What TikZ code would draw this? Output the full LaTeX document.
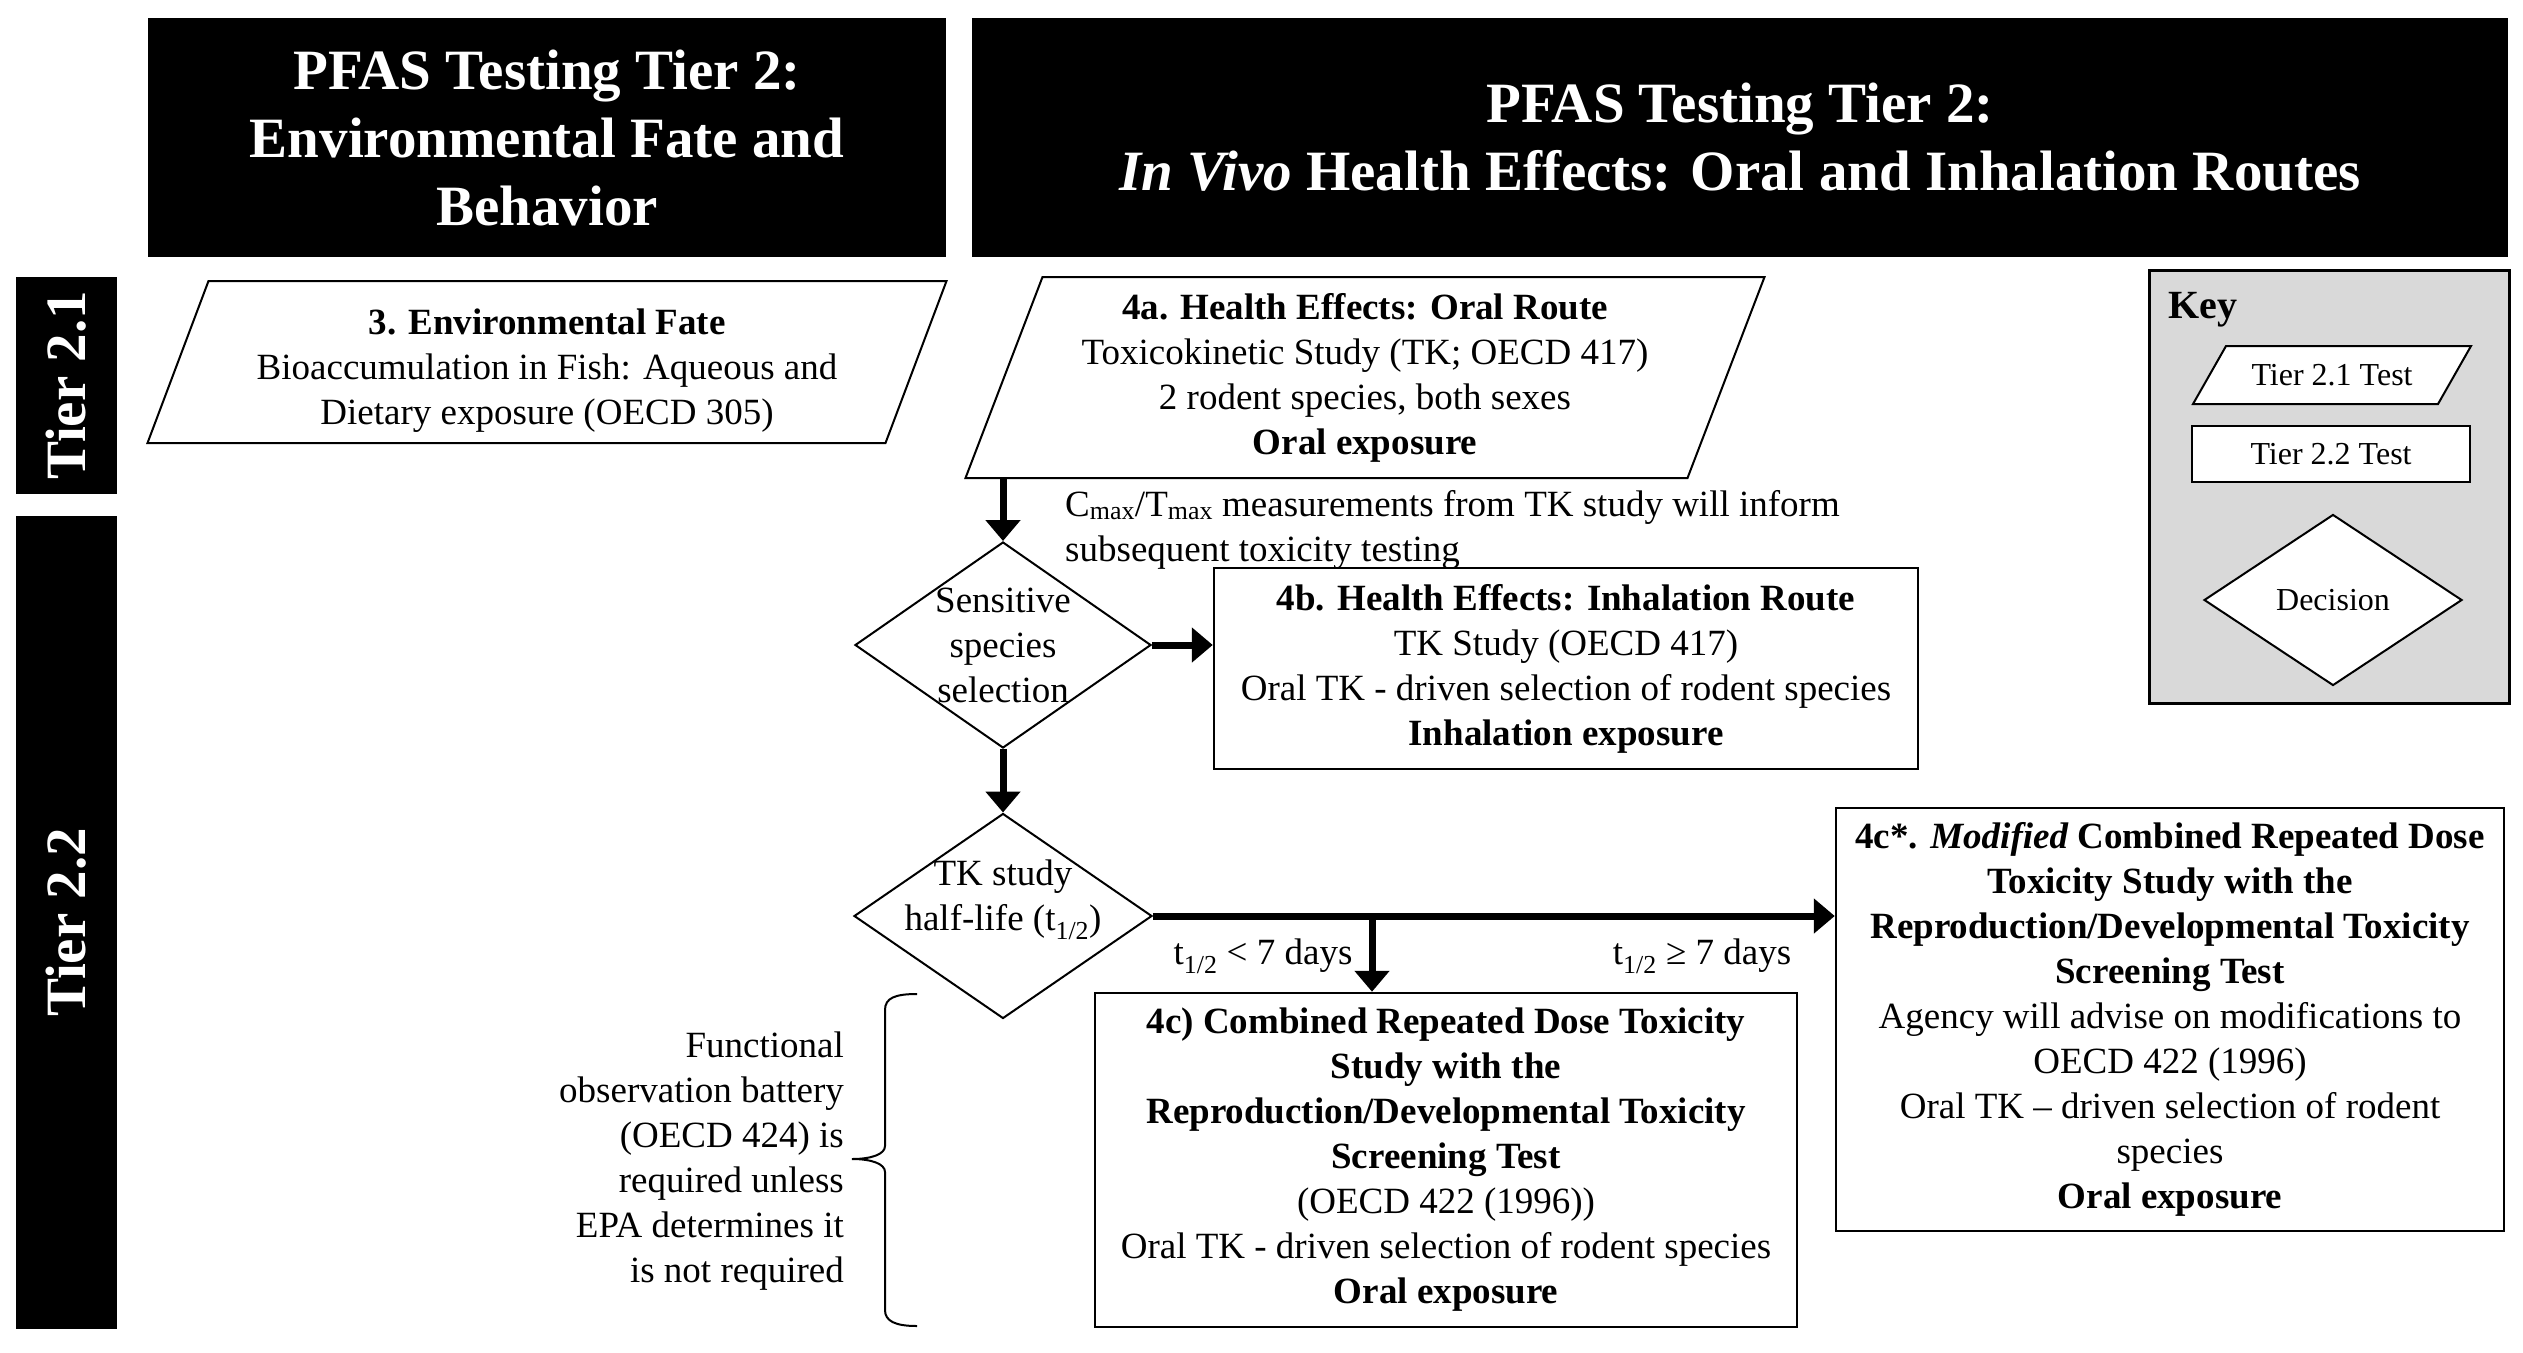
\documentclass[tikz,border=0pt]{standalone}
\usepackage{fontspec}
\setmainfont{Liberation Serif}
\usetikzlibrary{shapes.geometric,arrows.meta}

\definecolor{keygray}{RGB}{217,217,217}

\tikzset{
 txt/.style={align=center, inner sep=0pt, font=\fontsize{37}{45}\selectfont},
 hdr/.style={fill=black, text=white, align=center, inner sep=0pt, font=\bfseries\fontsize{57}{68}\selectfont},
 tierbar/.style={hdr, rotate=90},
 testbox/.style={txt, draw, line width=2.5pt},
 slantline/.style={draw, fill=white, line width=2pt},
 decision/.style={diamond, draw, fill=white, line width=2pt, inner sep=0pt},
 flow/.style={-{Triangle[length=21pt,width=34pt]}, line width=7pt},
}

\begin{document}
\begin{tikzpicture}[x=1pt,y=-1pt]

\fill[white] (0,0) rectangle (2523,1352);
\useasboundingbox (0,0) rectangle (2523,1352);

% name, x, y, width, height, slant, text drop, text
\newcommand{\slantnode}[8]{
 \draw[slantline] ({#2-#4/2+#6},{#3-#5/2}) -- ({#2+#4/2+#6},{#3-#5/2})
   -- ({#2+#4/2-#6},{#3+#5/2}) -- ({#2-#4/2-#6},{#3+#5/2}) -- cycle;
 \node[txt, minimum width=#4, minimum height=#5] (#1) at (#2,{#3+#7}) {#8};
}

\node[hdr, minimum width=798, minimum height=239] (hdrfate) at (547,137.5)
 {PFAS Testing Tier 2:\\Environmental Fate and\\Behavior};
\node[hdr, minimum width=1536, minimum height=239] (hdrhealth) at (1740,137.5)
 {PFAS Testing Tier 2:\\\textit{In Vivo} Health Effects: Oral and Inhalation Routes};

\foreach \y/\h/\t/\n in {385.5/217/2.1/tierone, 922.5/813/2.2/tiertwo}
 \node[tierbar, minimum width=\h, minimum height=101] (\n) at (66.5,\y) {Tier \t};

% tier 2.1 tests
\slantnode{fate}{547}{362}{738}{162}{30.5}{9}{\textbf{3. Environmental Fate}\\Bioaccumulation in Fish: Aqueous and\\Dietary exposure (OECD 305)}
\slantnode{oral}{1365}{377.5}{722}{201}{38.5}{0}{\textbf{4a. Health Effects: Oral Route}\\Toxicokinetic Study (TK; OECD 417)\\2 rodent species, both sexes\\\textbf{Oral exposure}}

\node[txt, align=left, anchor=west] (cmax) at (1065,529.5)
 {C\textsubscript{max}/T\textsubscript{max} measurements from TK study will inform\\subsequent toxicity testing};

% decisions
\node[decision, minimum width=296, minimum height=206,
 label={[txt]center:Sensitive\\species\\selection}] (sens) at (1003,645) {};
\node[decision, minimum width=298, minimum height=205,
 label={[txt, yshift=16pt]center:TK study\\half-life (t\textsubscript{1/2})}] (half) at (1003,916) {};

% tier 2.2 tests
\node[testbox, minimum width=704, minimum height=201] (inhal) at (1566,668.5)
 {\textbf{4b. Health Effects: Inhalation Route}\\TK Study (OECD 417)\\Oral TK - driven selection of rodent species\\\textbf{Inhalation exposure}};

\node[testbox, minimum width=702, minimum height=334] (comb) at (1446,1160)
 {\textbf{4c) Combined Repeated Dose Toxicity}\\\textbf{Study with the}\\\textbf{Reproduction/Developmental Toxicity}\\\textbf{Screening Test}\\(OECD 422 (1996))\\Oral TK - driven selection of rodent species\\\textbf{Oral exposure}};

\node[testbox, minimum width=668, minimum height=423] (modcomb) at (2170,1019.5)
 {\textbf{4c*. \textit{Modified} Combined Repeated Dose}\\\textbf{Toxicity Study with the}\\\textbf{Reproduction/Developmental Toxicity}\\\textbf{Screening Test}\\Agency will advise on modifications to\\OECD 422 (1996)\\Oral TK – driven selection of rodent\\species\\\textbf{Oral exposure}};

\node[txt] (shortlab) at (1263,956) {t\textsubscript{1/2} < 7 days};
\node[txt] (longlab) at (1702,956) {t\textsubscript{1/2} ≥ 7 days};

\node[txt, align=right, anchor=east] (fob) at (844,1161)
 {Functional\\observation battery\\(OECD 424) is\\required unless\\EPA determines it\\is not required};
% brace
\draw[line width=2pt] (917,994) .. controls (895,994) and (885,998) .. (885,1010)
 -- (885,1146) .. controls (885,1154) and (872,1159) .. (852,1159)
 .. controls (872,1159) and (885,1164) .. (885,1172)
 -- (885,1310) .. controls (885,1321) and (895,1326) .. (917,1326);

% arrows
\draw[flow] (oral.south -| sens.north) -- (sens.north);
\draw[flow] (sens.east) -- (sens.east -| inhal.west);
\draw[flow] (sens.south) -- (half.north);
\draw[flow] (half.east) -- (half.east -| modcomb.west);
\coordinate (fork) at (1372,916);
\draw[flow] (fork) -- (fork |- comb.north);

% key
\node[draw, line width=3pt, fill=keygray, minimum width=360, minimum height=433] (key) at (2329,486.5) {};
\node[anchor=west, inner sep=0pt, font=\bfseries\fontsize{40}{48}\selectfont] (keytitle) at (2168,310) {Key};
\slantnode{keyone}{2332}{375}{245}{58}{16.5}{0}{\fontsize{32}{38}\selectfont Tier 2.1 Test}
\node[testbox, fill=white, minimum width=278, minimum height=56, font=\fontsize{32}{38}\selectfont] (keytwo) at (2331,454) {Tier 2.2 Test};
\node[decision, minimum width=258, minimum height=171, font=\fontsize{32}{38}\selectfont] (keydec) at (2333,600) {Decision};

\end{tikzpicture}
\end{document}
